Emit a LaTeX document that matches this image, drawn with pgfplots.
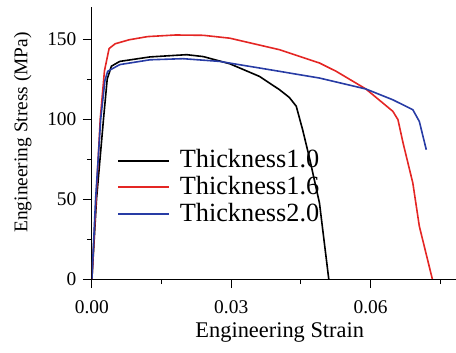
\documentclass[border=0pt]{standalone}
\usepackage{graphicx}
\usepackage{pgfplots}
\pgfplotsset{compat=1.18}
\usepackage{fontspec}
\setmainfont{Liberation Serif}
\definecolor{cred}{RGB}{228,38,36}
\definecolor{cblue}{RGB}{40,60,165}
\newcommand{\legtxt}[1]{\scalebox{1.39}{#1}}
\begin{document}
\begin{tikzpicture}
\begin{axis}[
  scale only axis,
  width=364bp, height=272.3bp,
  xmin=0, xmax=0.0783, ymin=0, ymax=170,
  axis lines=left,
  axis line style={-, line width=0.9pt},
  scaled x ticks=false,
  xtick={0,0.03,0.06}, xticklabels={0.00,0.03,0.06},
  minor xtick={0.015,0.045,0.075},
  ytick={0,50,100,150}, minor ytick={25,75,125},
  tick align=outside,
  major tick length=9bp, minor tick length=5bp,
  tick style={line width=0.9pt, black},
  /pgf/number format/assume math mode=true,
  ticklabel style={font=\fontsize{19.5}{22}\selectfont},
  xticklabel style={yshift=-9bp},
  yticklabel style={xshift=-3bp},
  xlabel={Engineering Strain}, ylabel={Engineering Stress (MPa)},
  every axis x label/.style={at={(axis description cs:0.5165,-0.2156)}, anchor=base, font=\fontsize{22.5}{26}\selectfont},
  every axis y label/.style={at={(axis description cs:-0.19,0.539)}, anchor=center, rotate=90, font=\fontsize{19.5}{22}\selectfont},
  legend style={draw=none, fill=none, inner sep=0pt, at={(axis description cs:0.0687,0.461)}, anchor=north west,
    row sep=12.7bp, column sep=0bp, font=\fontsize{19}{22}\selectfont,
    nodes={inner sep=0pt, text height=14bp, text depth=0bp}},
  legend cell align=left,
  legend image code/.code={\draw[#1, line width=2bp] (0bp,0bp) -- (51bp,0bp);\path (61bp,0bp);},
]
\addplot[black, line width=1.6bp] coordinates {
(0,0) (0.001,50) (0.0025,100) (0.0033,125) (0.0042,133) (0.006,136) (0.0125,138.8) (0.0204,140.2) (0.024,139) (0.0297,134.5) (0.0361,126.6) (0.0404,118.3) (0.0425,113.5) (0.044,108) (0.0454,93) (0.0469,75) (0.049,47.5) (0.051,0)
};
\addlegendentry{\legtxt{Thickness1.0}}
\addplot[cred, line width=1.6bp] coordinates {
(0,0) (0.0009,50) (0.0018,100) (0.0027,130) (0.0037,144) (0.005,147) (0.008,149.5) (0.012,151.5) (0.018,152.5) (0.024,152.3) (0.0297,150.5) (0.0404,143.3) (0.049,135) (0.0526,129.8) (0.059,118.75) (0.0648,104.8) (0.0659,99.6) (0.067,85) (0.0691,60) (0.0705,33) (0.0733,0)
};
\addlegendentry{\legtxt{Thickness1.6}}
\addplot[cblue, line width=1.6bp] coordinates {
(0,0) (0.0008,50) (0.0019,100) (0.0028,124) (0.0034,129.8) (0.006,134) (0.0125,137) (0.0196,137.7) (0.0275,136) (0.0383,130.8) (0.049,125.6) (0.059,118.75) (0.0648,112) (0.0691,105.8) (0.0705,98.5) (0.072,80.8)
};
\addlegendentry{\legtxt{Thickness2.0}}
\coordinate (bbsw) at (axis description cs:-0.2527,-0.2707);
\coordinate (bbne) at (axis description cs:1,1.0257);
\end{axis}
\path (bbsw) rectangle (bbne);
\end{tikzpicture}
\end{document}
